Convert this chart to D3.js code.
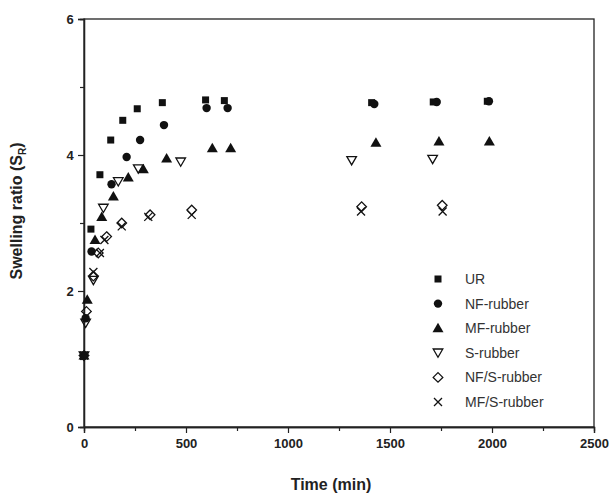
<!DOCTYPE html>
<html><head><meta charset="utf-8">
<script src="https://cdn.jsdelivr.net/npm/d3@7"></script>
<style>body{margin:0;background:#fff}svg{display:block}</style>
</head><body><svg id="c" width="616" height="496"></svg>
<script>
const seriesNames = ["UR","NF-rubber","MF-rubber","S-rubber","NF/S-rubber","MF/S-rubber"];
const urTime = [0,34,78,131,190,261,384,596,688,1410,1712,1977];
const urSR   = [1.05,2.91,3.71,4.22,4.51,4.68,4.77,4.81,4.80,4.77,4.78,4.79];
const nfTime = [0,8,37,135,209,275,392,601,704,1423,1729,1985];
const nfSR   = [1.05,1.60,2.58,3.57,3.97,4.22,4.44,4.69,4.69,4.75,4.78,4.79];
const mfTime = [0,16,54,87,144,217,291,405,629,719,1431,1740,1987];
const mfSR   = [1.05,1.87,2.75,3.09,3.39,3.67,3.79,3.95,4.10,4.10,4.18,4.20,4.20];
const sTime  = [0,8,46,95,168,266,474,1312,1709];
const sSR    = [1.05,1.53,2.16,3.22,3.61,3.80,3.90,3.92,3.94];
const nfsTime = [0,12,46,70,111,185,324,528,1361,1756];
const nfsSR   = [1.05,1.70,2.22,2.56,2.80,3.00,3.12,3.19,3.24,3.26];
const mfsTime = [0,46,78,100,185,315,528,1358,1758];
const mfsSR   = [1.05,2.28,2.56,2.75,2.95,3.09,3.12,3.17,3.17];
const xTicks = [0,500,1000,1500,2000,2500];
const yTicks = [0,2,4,6];

const svg = d3.select("#c");
const L=84,R=594,T=19,B=427;
const x = d3.scaleLinear().domain([0,2500]).range([L,R]);
const y = d3.scaleLinear().domain([0,6]).range([B,T]);
const font = "'Liberation Sans', Arial, sans-serif";

// frame
svg.append("rect").attr("x",L).attr("y",T).attr("width",R-L).attr("height",B-T)
  .attr("fill","none").attr("stroke","#222").attr("stroke-width",1.3);

// axes
const xa = svg.append("g").attr("transform",`translate(0,${B})`)
  .call(d3.axisBottom(x).tickValues(xTicks).tickSize(6).tickFormat(d3.format("d")));
const xm = svg.append("g").attr("transform",`translate(0,${B})`)
  .call(d3.axisBottom(x).tickValues([250,750,1250,1750,2250]).tickSize(4).tickFormat(""));
const ya = svg.append("g").attr("transform",`translate(${L},0)`)
  .call(d3.axisLeft(y).tickValues(yTicks).tickSize(6).tickFormat(d3.format("d")));
const ym = svg.append("g").attr("transform",`translate(${L},0)`)
  .call(d3.axisLeft(y).tickValues([1,3,5]).tickSize(4).tickFormat(""));
[xa,xm,ya,ym].forEach(g=>{
  g.select(".domain").attr("stroke","#222").attr("stroke-width",1.3);
  g.selectAll(".tick line").attr("stroke","#222").attr("stroke-width",1.2);
  g.selectAll("text").attr("font-family",font).attr("font-weight","bold")
    .attr("font-size",13).attr("fill","#222");
});
xa.selectAll("text").attr("dy","0.95em");
ya.selectAll("text").attr("dx","-0.1em");

// titles
svg.append("text").attr("x",(L+R)/2 - 8).attr("y",490).attr("text-anchor","middle")
  .attr("font-family",font).attr("font-weight","bold").attr("font-size",16).attr("fill","#222")
  .text("Time (min)");
const yt = svg.append("text").attr("transform",`translate(22,${(T+B)/2 - 12}) rotate(-90)`)
  .attr("text-anchor","middle").attr("font-family",font).attr("font-weight","bold")
  .attr("font-size",16).attr("fill","#222");
yt.append("tspan").text("Swelling ratio (S");
yt.append("tspan").attr("font-size",10).attr("dy",4).text("R");
yt.append("tspan").attr("dy",-4).text(")");

// symbols
function drawSym(g, kind, cx, cy){
  const c="#111";
  if(kind==="square") g.append("rect").attr("x",cx-3.5).attr("y",cy-3.5).attr("width",7).attr("height",7).attr("fill",c);
  else if(kind==="circle") g.append("circle").attr("cx",cx).attr("cy",cy).attr("r",4.2).attr("fill",c);
  else if(kind==="tri") g.append("path").attr("d",`M${cx},${cy-5.5}L${cx+5.5},${cy+4}L${cx-5.5},${cy+4}Z`).attr("fill",c);
  else if(kind==="dtri") g.append("path").attr("d",`M${cx-4.8},${cy-3.8}L${cx+4.8},${cy-3.8}L${cx},${cy+4.5}Z`).attr("fill","none").attr("stroke",c).attr("stroke-width",1.3);
  else if(kind==="diamond") g.append("path").attr("d",`M${cx},${cy-4.8}L${cx+4.8},${cy}L${cx},${cy+4.8}L${cx-4.8},${cy}Z`).attr("fill","none").attr("stroke",c).attr("stroke-width",1.3);
  else if(kind==="x") g.append("path").attr("d",`M${cx-4},${cy-4}L${cx+4},${cy+4}M${cx+4},${cy-4}L${cx-4},${cy+4}`).attr("stroke",c).attr("stroke-width",1.3);
}
const kinds = ["square","circle","tri","dtri","diamond","x"];
const data = [[urTime,urSR],[nfTime,nfSR],[mfTime,mfSR],[sTime,sSR],[nfsTime,nfsSR],[mfsTime,mfsSR]];
const pts = svg.append("g");
data.forEach(([ts,vs],i)=>{
  ts.forEach((t,j)=> drawSym(pts.append("g"), kinds[i], x(t), y(vs[j])));
});

// legend
const lg = svg.append("g");
seriesNames.forEach((n,i)=>{
  const yy = 279 + i*24.6;
  drawSym(lg, kinds[i], 438, yy);
  lg.append("text").attr("x",465).attr("y",yy+5).attr("font-family",font)
    .attr("font-size",14).attr("fill","#333").text(n);
});
</script></body></html>
